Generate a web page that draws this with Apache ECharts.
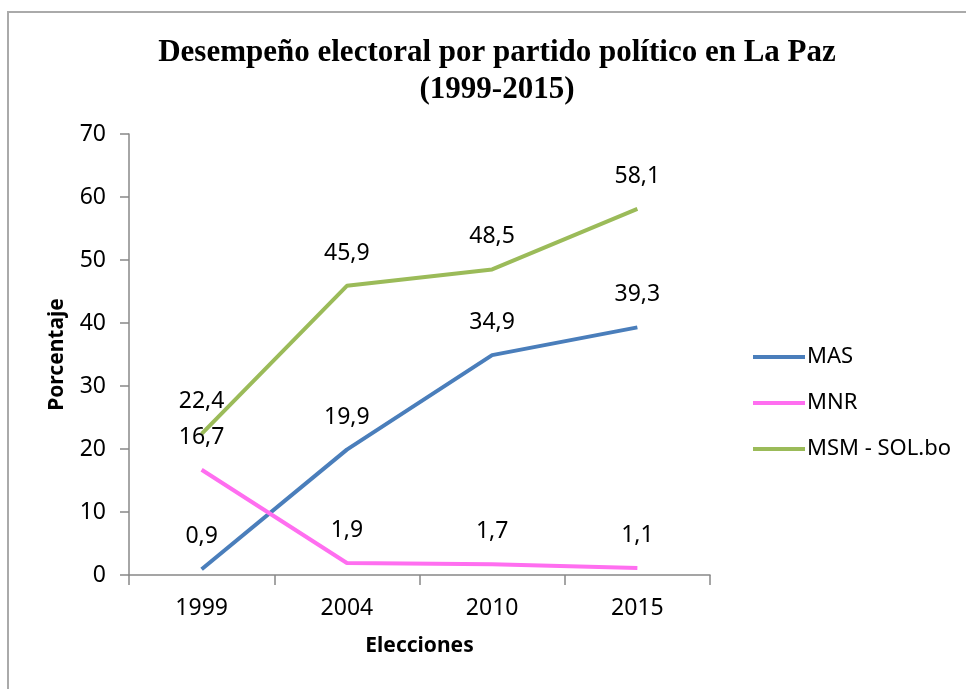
<!DOCTYPE html>
<html>
<head>
<meta charset="utf-8">
<script src="https://cdn.jsdelivr.net/npm/echarts@6/dist/echarts.min.js"></script>
<style>
  html, body { margin: 0; padding: 0; background: #fff; }
  #chart { width: 966px; height: 689px; }
</style>
</head>
<body>
<div id="chart"></div>
<script>
// datos
var years = ['1999', '2004', '2010', '2015'];
var mas = [0.9, 19.9, 34.9, 39.3];
var mnr = [16.7, 1.9, 1.7, 1.1];
var msm = [22.4, 45.9, 48.5, 58.1];
var seriesNames = ['MAS', 'MNR', 'MSM - SOL.bo'];
var seriesColors = ['#4a7ebb', '#ff6ef0', '#9bbb59'];

var font = 'Noto Sans';

function makeSeries(name, data, color) {
    return {
        name: name,
        type: 'line',
        data: data,
        // symbol 'none' oculta las etiquetas, así que usamos tamaño 0
        symbol: 'circle',
        symbolSize: 0,
        lineStyle: { width: 4, color: color },
        itemStyle: { color: color },
        label: {
            show: true,
            position: 'top',
            distance: 21,
            fontFamily: font,
            fontSize: 23,
            color: '#000',
            formatter: function (p) { return String(p.value).replace('.', ','); }
        },
        emphasis: { disabled: true }
    };
}

var myChart = echarts.init(document.getElementById('chart'));
var option = {
    backgroundColor: '#fff',
    animation: false,
    title: {
        text: 'Desempeño electoral por partido político en La Paz\n(1999-2015)',
        left: 492,
        textAlign: 'center',
        top: 29,
        textStyle: {
            fontFamily: 'Liberation Serif',
            fontWeight: 'bold',
            fontSize: 31,
            lineHeight: 37,
            color: '#000'
        }
    },
    legend: {
        orient: 'vertical',
        left: 748,
        top: 341,
        itemWidth: 52,
        itemHeight: 4,
        itemGap: 24,
        icon: 'rect',
        data: seriesNames,
        textStyle: { fontFamily: font, fontSize: 22, color: '#000', padding: [0, 0, 0, -3] }
    },
    grid: {
        left: 129,
        top: 134,
        right: 256,
        bottom: 114
    },
    xAxis: {
        type: 'category',
        data: years,
        boundaryGap: true,
        name: 'Elecciones',
        nameLocation: 'middle',
        nameGap: 61,
        nameTextStyle: { fontFamily: font, fontSize: 21, fontWeight: 'bold', color: '#000' },
        axisLine: { lineStyle: { color: '#888', width: 1.5 } },
        axisTick: { show: true, length: 10, inside: false, lineStyle: { color: '#888', width: 1.5 } },
        axisLabel: { fontFamily: font, fontSize: 23, color: '#000', margin: 22 },
        splitLine: { show: false }
    },
    yAxis: {
        type: 'value',
        min: 0,
        max: 70,
        interval: 10,
        name: 'Porcentaje',
        nameLocation: 'middle',
        nameGap: 61,
        nameTextStyle: { fontFamily: font, fontSize: 21, fontWeight: 'bold', color: '#000' },
        axisLine: { show: true, lineStyle: { color: '#888', width: 1.5 } },
        axisTick: { show: true, length: 9, lineStyle: { color: '#888', width: 1.5 } },
        axisLabel: { fontFamily: font, fontSize: 23, color: '#000', margin: 23 },
        splitLine: { show: false }
    },
    graphic: [{
        type: 'polyline',
        silent: true,
        shape: { points: [[8, 689], [8, 12], [966, 12]] },
        style: { stroke: '#aaa', lineWidth: 2, fill: null }
    }],
    series: [
        makeSeries(seriesNames[0], mas, seriesColors[0]),
        makeSeries(seriesNames[1], mnr, seriesColors[1]),
        makeSeries(seriesNames[2], msm, seriesColors[2])
    ]
};
myChart.setOption(option);
</script>
</body>
</html>
